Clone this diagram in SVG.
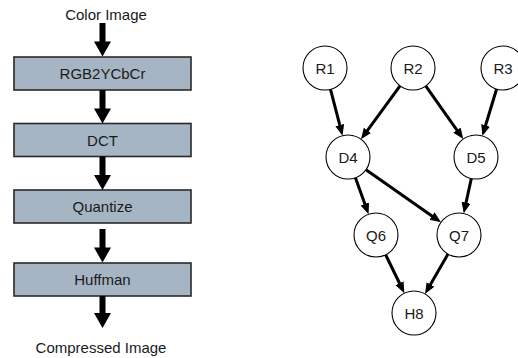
<svg xmlns="http://www.w3.org/2000/svg" width="518" height="358" viewBox="0 0 518 358">
  <style>
    text { font-family: "Liberation Sans", Arial, sans-serif; font-size: 15px; fill: #1a1a1a; text-anchor: middle; }
    .stage rect { fill: #a6b5c4; stroke: #2a2a2a; stroke-width: 1.6; }
    .flow { fill: #000; }
    .node circle { fill: #fff; stroke: #000; stroke-width: 1.1; }
    .edge { stroke: #000; stroke-width: 3; fill: none; marker-end: url(#head); }
  </style>
  <defs>
    <marker id="head" markerUnits="userSpaceOnUse" markerWidth="12" markerHeight="10" refX="3" refY="4.5" orient="auto">
      <path d="M0,0 L11,4.5 L0,9 z" fill="#000"/>
    </marker>
  </defs>

  <rect width="518" height="358" fill="#fff"/>

  <!-- pipeline labels -->
  <text id="input-label" x="106" y="19.5">Color Image</text>
  <text id="output-label" x="101" y="353">Compressed Image</text>

  <!-- pipeline stages -->
  <g id="stage-rgb2ycbcr" class="stage">
    <rect x="14" y="57" width="177" height="33"/>
    <text x="102.5" y="79">RGB2YCbCr</text>
  </g>
  <g id="stage-dct" class="stage">
    <rect x="14" y="123.5" width="177" height="33"/>
    <text x="102.5" y="145.5">DCT</text>
  </g>
  <g id="stage-quantize" class="stage">
    <rect x="14" y="190" width="177" height="33"/>
    <text x="102.5" y="212">Quantize</text>
  </g>
  <g id="stage-huffman" class="stage">
    <rect x="14" y="263" width="177" height="33"/>
    <text x="102.5" y="285">Huffman</text>
  </g>

  <!-- pipeline block arrows -->
  <g id="flow-arrows" class="flow">
    <polygon points="99.5,23 105.5,23 105.5,41.5 111,41.5 102.5,56.5 94,41.5 99.5,41.5"/>
    <polygon points="99.5,90 105.5,90 105.5,108.5 111,108.5 102.5,123.5 94,108.5 99.5,108.5"/>
    <polygon points="99.5,156.5 105.5,156.5 105.5,175 111,175 102.5,190 94,175 99.5,175"/>
    <polygon points="99.5,229 105.5,229 105.5,247.5 111,247.5 102.5,262.5 94,247.5 99.5,247.5"/>
    <polygon points="99.5,296 105.5,296 105.5,313 111,313 102.5,328 94,313 99.5,313"/>
  </g>

  <!-- task graph edges -->
  <g id="edges">
    <line class="edge" x1="330.50" y1="89.30" x2="340.50" y2="127.95"/>
    <line class="edge" x1="400.02" y1="85.77" x2="365.70" y2="132.77"/>
    <line class="edge" x1="425.71" y1="85.96" x2="458.67" y2="132.51"/>
    <line class="edge" x1="496.61" y1="89.05" x2="484.71" y2="128.30"/>
    <line class="edge" x1="355.43" y1="177.71" x2="365.87" y2="206.76"/>
    <line class="edge" x1="366.00" y1="169.65" x2="434.45" y2="217.75"/>
    <line class="edge" x1="471.31" y1="178.50" x2="465.39" y2="205.68"/>
    <line class="edge" x1="385.64" y1="254.78" x2="400.86" y2="286.03"/>
    <line class="edge" x1="448.01" y1="254.06" x2="428.99" y2="287.01"/>
  </g>

  <!-- task graph nodes -->
  <g id="R1" class="node"><circle cx="325" cy="68" r="22"/><text x="325" y="73.5">R1</text></g>
  <g id="R2" class="node"><circle cx="413" cy="68" r="22"/><text x="413" y="73.5">R2</text></g>
  <g id="R3" class="node"><circle cx="503" cy="68" r="22"/><text x="503" y="73.5">R3</text></g>
  <g id="D4" class="node"><circle cx="348" cy="157" r="22"/><text x="348" y="162.5">D4</text></g>
  <g id="D5" class="node"><circle cx="476" cy="157" r="22"/><text x="476" y="162.5">D5</text></g>
  <g id="Q6" class="node"><circle cx="376" cy="235" r="22"/><text x="376" y="240.5">Q6</text></g>
  <g id="Q7" class="node"><circle cx="459" cy="235" r="22"/><text x="459" y="240.5">Q7</text></g>
  <g id="H8" class="node"><circle cx="414" cy="313" r="22"/><text x="414" y="318.5">H8</text></g>
</svg>
